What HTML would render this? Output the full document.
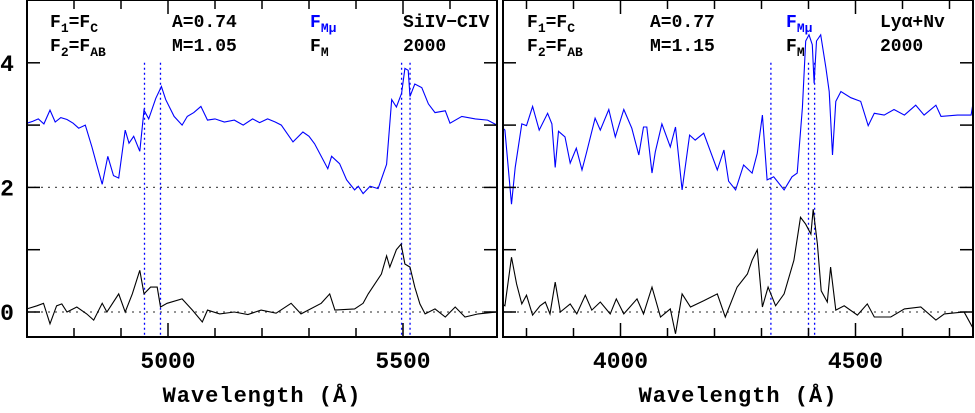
<!DOCTYPE html>
<html><head><meta charset="utf-8"><style>
body{margin:0;background:#fff;width:975px;height:408px;overflow:hidden}
svg text{font-family:"Liberation Mono","DejaVu Sans Mono",monospace;font-weight:bold}
</style></head><body>
<svg id="chart" width="975" height="408" xmlns="http://www.w3.org/2000/svg"></svg>
<script>
// Left panel (SiIV-CIV) data
const leftBlueWl=[4700,4712,4724,4736,4749,4760,4772,4785,4798,4810,4824,4838,4849,4860,4872,4884,4895,4909,4917,4927,4940,4949,4959,4974,4986,4995,5013,5030,5041,5055,5070,5084,5100,5120,5141,5160,5180,5195,5212,5228,5241,5266,5287,5300,5312,5340,5348,5365,5380,5397,5405,5415,5430,5447,5465,5476,5486,5497,5504,5511,5515,5525,5540,5554,5568,5590,5600,5625,5654,5680,5700];
const leftBlueFx=[3.03,3.06,3.1,3.02,3.24,3.05,3.12,3.09,3.03,2.95,3.0,2.65,2.35,2.05,2.5,2.19,2.15,2.92,2.71,2.82,2.58,3.24,3.1,3.43,3.62,3.41,3.14,3.0,3.14,3.2,3.3,3.08,3.1,3.05,3.08,3.0,3.1,3.04,3.1,3.05,3.0,2.73,2.89,2.82,2.7,2.3,2.5,2.38,2.12,1.96,2.02,1.9,2.02,1.98,2.37,3.41,3.29,3.51,3.91,3.88,3.46,3.66,3.6,3.34,3.2,3.23,3.03,3.14,3.1,3.08,3.0];
const leftBlackWl=[4700,4721,4735,4749,4763,4774,4785,4806,4827,4842,4860,4870,4895,4909,4924,4940,4949,4963,4977,4984,4998,5030,5052,5073,5084,5110,5141,5170,5198,5230,5262,5283,5326,5344,5355,5397,5415,5426,5454,5465,5472,5486,5496,5504,5515,5525,5536,5547,5568,5590,5611,5632,5660,5700];
const leftBlackFx=[0.05,0.1,0.14,-0.19,0.1,0.13,0,0.08,-0.03,-0.13,0.14,0,0.29,0,0.29,0.67,0.29,0.4,0.4,0.08,0.14,0.21,0.03,-0.16,0.03,-0.03,0,-0.04,0.03,-0.02,0.14,-0.03,0.14,0.29,0.03,0.05,0.14,0.29,0.61,0.9,0.72,1.0,1.09,0.77,0.72,0.4,0.13,-0.03,0.05,-0.08,0.08,-0.08,-0.03,0];
const leftMarks=[4950,4984,5497,5515];
// Right panel (Lya+NV) data
const rightBlueWl=[3750,3754,3768,3776,3790,3800,3813,3827,3845,3854,3861,3868,3882,3893,3906,3918,3928,3946,3957,3975,3989,4007,4024,4039,4049,4056,4067,4074,4088,4106,4117,4131,4147,4159,4177,4206,4220,4230,4245,4262,4280,4291,4302,4312,4326,4348,4365,4376,4387,4394,4401,4408,4412,4417,4426,4437,4444,4451,4458,4469,4490,4511,4527,4540,4561,4582,4604,4628,4646,4671,4682,4717,4746,4750];
const rightBlueFx=[2.95,2.92,1.73,2.32,3.02,2.99,3.3,2.92,3.19,3.02,2.32,2.9,2.81,2.39,2.63,2.28,2.57,3.11,2.92,3.25,2.81,3.25,2.95,2.52,2.97,2.97,2.23,2.57,3.02,2.65,2.97,1.96,2.84,2.76,2.87,2.28,2.6,2.1,1.96,2.36,2.23,2.55,3.16,2.12,2.17,1.96,2.17,2.23,3.28,4.35,4.45,4.29,3.67,4.35,4.45,3.92,3.54,2.52,3.38,3.54,3.44,3.38,2.99,3.19,3.16,3.25,3.16,3.32,3.16,3.32,3.14,3.16,3.16,3.35];
const rightBlackWl=[3750,3754,3768,3779,3790,3800,3813,3829,3840,3850,3861,3872,3893,3907,3925,3939,3957,3978,3991,4007,4035,4049,4067,4085,4106,4117,4131,4149,4177,4206,4223,4248,4270,4280,4291,4302,4314,4330,4348,4369,4383,4394,4405,4410,4419,4427,4440,4447,4458,4476,4504,4525,4540,4575,4604,4639,4671,4689,4731,4750];
const rightBlackFx=[0.12,0.1,0.88,0.45,0.13,0.27,-0.05,0.1,0.16,-0.03,0.48,0,0.13,-0.03,0.27,0.03,0.16,-0.03,0.21,-0.03,0.21,-0.03,0.4,-0.08,0.05,-0.35,0.29,0.08,0.18,0.29,-0.08,0.4,0.61,0.83,1.0,0.08,0.4,0.1,0.29,0.83,1.52,1.41,1.25,1.65,1.09,0.34,0.16,0.72,0.03,0.1,-0.05,0.13,-0.08,-0.08,0.05,0.08,-0.13,-0.03,0,-0.26];
const rightMarks=[4320,4400,4413];
const yTicks=[0,1,2,3,4];
const yLabels=[0,2,4];

const NS="http://www.w3.org/2000/svg";
const svg=document.getElementById('chart');
function el(t,a,p){const e=document.createElementNS(NS,t);for(const k in a)e.setAttribute(k,a[k]);(p||svg).appendChild(e);return e;}
const Y0=312,YS=62.3,TOP=0,BOT=337;
function ys(v){return Y0-v*YS;}

function panel(name,x0,x1,wmin,wmax,xlabels,blueW,blueF,blackW,blackF,marks,texts){
  const g=el('g',{});
  
  
  const xs=w=>x0+(w-wmin)/(wmax-wmin)*(x1-x0);
  [0,2].forEach(v=>{const l=el('line',{x1:x0,x2:x1,y1:ys(v),y2:ys(v),stroke:'#555','stroke-width':1.2,'stroke-dasharray':'2,5'},g);
    });
  marks.forEach(w=>{const l=el('line',{x1:xs(w),x2:xs(w),y1:ys(4.0),y2:BOT,stroke:'#0000ff','stroke-width':1.3,'stroke-dasharray':'2,3'},g);
    });
  const clip=(w)=>Math.max(wmin,Math.min(wmax,w));
  let d=blueW.map((w,i)=>(i?'L':'M')+xs(clip(w)).toFixed(1)+','+ys(blueF[i]).toFixed(1)).join('');
  const pb=el('path',{d:d,fill:'none',stroke:'#0000ff','stroke-width':1.1},g);
  
  d=blackW.map((w,i)=>(i?'L':'M')+xs(clip(w)).toFixed(1)+','+ys(blackF[i]).toFixed(1)).join('');
  const pk=el('path',{d:d,fill:'none',stroke:'#000','stroke-width':1.1},g);
  
  const fr=el('rect',{x:x0,y:TOP,width:x1-x0,height:BOT-TOP,fill:'none',stroke:'#000','stroke-width':2},g);
  
  yTicks.forEach(v=>{const y=ys(v);
    el('line',{x1:x0,x2:x0+13,y1:y,y2:y,stroke:'#000','stroke-width':1.5},g);
    el('line',{x1:x1-13,x2:x1,y1:y,y2:y,stroke:'#000','stroke-width':1.5},g);});
  for(let w=Math.ceil(wmin/100)*100;w<=wmax;w+=100){const x=xs(w);const L=(w%500===0)?14:9;
    el('line',{x1:x,x2:x,y1:BOT,y2:BOT-L,stroke:'#000','stroke-width':1.5},g);
    el('line',{x1:x,x2:x,y1:TOP,y2:TOP+L,stroke:'#000','stroke-width':1.5},g);}
  xlabels.forEach(w=>{const t=el('text',{x:xs(w),y:368,'text-anchor':'middle','font-size':23,'font-weight':'normal'},g);t.textContent=w;
    });
  const xt=el('text',{x:(x0+x1)/2,y:402,'text-anchor':'middle','font-size':22,'letter-spacing':'1'},g);
  xt.textContent='Wavelength (Å)';
  
  texts.forEach(tx=>{const t=el('text',{x:tx[0],y:tx[1],'font-size':18,fill:tx[3]||'#000'},g);t.innerHTML=tx[2];
    });
}
const sub='<tspan dy="5" font-size="13">';
panel('panel-siiv-civ',27,497,4700,5700,[5000,5500],leftBlueWl,leftBlueFx,leftBlackWl,leftBlackFx,leftMarks,[
 [50,27,'F'+sub+'1</tspan><tspan dy="-5">=F</tspan>'+sub+'C</tspan>',null,'label-f1'],
 [50,51,'F'+sub+'2</tspan><tspan dy="-5">=F</tspan>'+sub+'AB</tspan>',null,'label-f2'],
 [172,27,'A=0.74',null,'label-a'],[172,51,'M=1.05',null,'label-m'],
 [310,27,'F'+sub+'Mμ</tspan>','#0000ff','legend-fm-mu'],[310,51,'F'+sub+'M</tspan>',null,'legend-fm'],
 [403,27,'SiIV−CIV',null,'label-line-id'],[403,51,'2000',null,'label-year']]);
panel('panel-lya-nv',503,973,3750,4750,[4000,4500],rightBlueWl,rightBlueFx,rightBlackWl,rightBlackFx,rightMarks,[
 [527,27,'F'+sub+'1</tspan><tspan dy="-5">=F</tspan>'+sub+'C</tspan>',null,'label-f1'],
 [527,51,'F'+sub+'2</tspan><tspan dy="-5">=F</tspan>'+sub+'AB</tspan>',null,'label-f2'],
 [650,27,'A=0.77',null,'label-a'],[650,51,'M=1.15',null,'label-m'],
 [786,27,'F'+sub+'Mμ</tspan>','#0000ff','legend-fm-mu'],[786,51,'F'+sub+'M</tspan>',null,'legend-fm'],
 [880,27,'Lyα+Nv',null,'label-line-id'],[880,51,'2000',null,'label-year']]);
yLabels.forEach(v=>{const t=el('text',{x:7,y:ys(v)+8,'text-anchor':'middle','font-size':23,'font-weight':'normal'});t.textContent=v;
  });
</script>
</body></html>
